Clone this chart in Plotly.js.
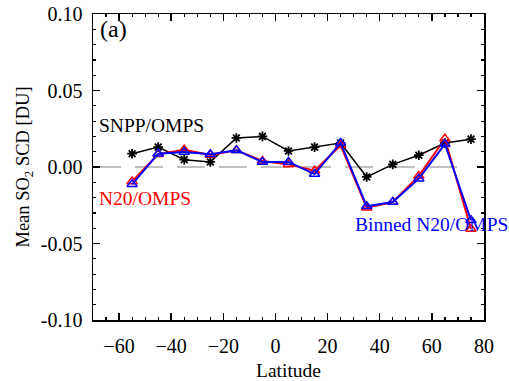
<!DOCTYPE html>
<html><head><meta charset="utf-8">
<script src="https://cdn.plot.ly/plotly-3.0.1.min.js"></script>
<style>body{margin:0;padding:0;background:#fff}#chart{width:509px;height:381px}</style>
</head><body><div id="chart"></div>
<script>
const latitude = [-55,-45,-35,-25,-15,-5,5,15,25,35,45,55,65,75];
const snppOmps = [0.0087,0.0130,0.0048,0.0033,0.0190,0.0200,0.0105,0.0130,0.0157,-0.0065,0.0017,0.0077,0.0157,0.0182];
const n20Omps = [-0.0094,0.0083,0.0113,0.0078,0.0110,0.0039,0.0017,-0.0024,0.0142,-0.0266,-0.0229,-0.0058,0.0185,-0.0405];
const binnedN20Omps = [-0.0113,0.0087,0.0098,0.0083,0.0110,0.0033,0.0033,-0.0046,0.0157,-0.0257,-0.0229,-0.0076,0.0150,-0.0348];
const yTickVals = [-0.10,-0.05,0.00,0.05,0.10];
const yTickText = ['-0.10','-0.05','0.00','0.05','0.10'];
const xTickVals = [-60,-40,-20,0,20,40,60,80];

const FONT = 'Liberation Serif, Times New Roman, serif';

const traces = [
  {x: latitude, y: snppOmps, mode:'lines+markers', line:{color:'#000',width:1.5},
   marker:{symbol:'asterisk-open',size:8,color:'#000',line:{width:1.8,color:'#000'}}},
  {x: latitude, y: n20Omps, mode:'lines+markers', line:{color:'#ff0000',width:2},
   marker:{symbol:'triangle-up-open',size:9,color:'#ff0000',line:{width:1.5,color:'#ff0000'}}},
  {x: latitude, y: binnedN20Omps, mode:'lines+markers', line:{color:'#0000ff',width:2},
   marker:{symbol:'triangle-up-open',size:9,color:'#0000ff',line:{width:1.5,color:'#0000ff'}}}
];

const axCommon = {showline:true, linecolor:'#000', linewidth:1.5, mirror:'allticks', ticks:'inside',
  tickcolor:'#000', tickwidth:1.5, ticklen:7, showgrid:false, zeroline:false,
  tickfont:{family:FONT,size:20,color:'#000'}};

const layout = {
  width:509, height:381, showlegend:false,
  paper_bgcolor:'#fff', plot_bgcolor:'#fff',
  margin:{l:93,r:25,t:14,b:61},
  xaxis: Object.assign({}, axCommon, {range:[-70,80], tickvals:xTickVals, ticklabelstandoff:7,
    minor:{dtick:5, tick0:0, ticks:'inside', ticklen:3, tickcolor:'#000', tickwidth:1.2, showgrid:false},
    title:{text:'Latitude', font:{family:FONT,size:19.5,color:'#000'}, standoff:9}}),
  yaxis: Object.assign({}, axCommon, {range:[-0.10,0.10], tickvals:yTickVals, ticktext:yTickText, ticklabelstandoff:5,
    minor:{dtick:0.01, tick0:0, ticks:'inside', ticklen:3, tickcolor:'#000', tickwidth:1.2, showgrid:false},
    title:{text:'Mean SO<sub>2</sub> SCD [DU]', font:{family:FONT,size:18.5,color:'#000'}, standoff:6}}),
  shapes:[{type:'line', xref:'x', yref:'y', x0:-70, x1:75, y0:0, y1:0, layer:'below',
    line:{color:'#aaaaaa', width:1.5, dash:'28px,14px'}}],
  annotations:[
    {text:'(a)', xref:'paper', yref:'paper', x:0.012, y:1.0, xanchor:'left', yanchor:'top', showarrow:false,
     font:{family:FONT,size:24,color:'#000'}},
    {text:'SNPP/OMPS', xref:'x', yref:'y', x:-68.5, y:0.0272, xanchor:'left', yanchor:'middle', showarrow:false,
     font:{family:FONT,size:19.5,color:'#000'}},
    {text:'N20/OMPS', xref:'x', yref:'y', x:-68.5, y:-0.0205, xanchor:'left', yanchor:'middle', showarrow:false,
     font:{family:FONT,size:19.5,color:'#ff0000'}},
    {text:'Binned N20/OMPS', xref:'x', yref:'y', x:29.8, y:-0.0375, xanchor:'left', yanchor:'middle', showarrow:false,
     font:{family:FONT,size:19.5,color:'#0000ff'}}
  ]
};
Plotly.newPlot('chart', traces, layout, {displayModeBar:false, staticPlot:true});
</script></body></html>
